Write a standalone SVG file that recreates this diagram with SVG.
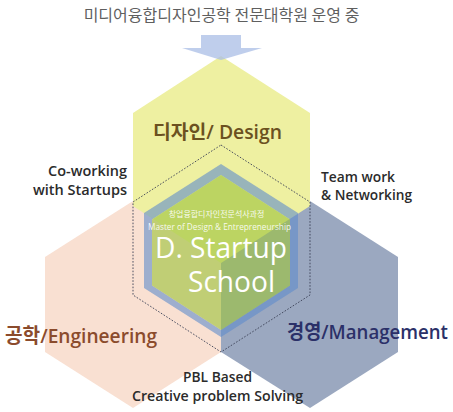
<svg xmlns="http://www.w3.org/2000/svg" width="453" height="412" viewBox="0 0 453 412">
<style>
.lbl{font-family:"Open Sans","Noto Sans CJK KR",sans-serif;font-weight:600}
.side{font-family:"Open Sans","Noto Sans CJK KR",sans-serif;font-weight:600;font-size:14.5px;fill:#2b2b2b}
.core{font-family:"Open Sans","Noto Sans CJK KR",sans-serif;fill:#ffffff}
.dot{fill:none;stroke:#3a3f55;stroke-width:0.9;stroke-dasharray:1.6 1.6}
</style>
<rect width="453" height="412" fill="#ffffff"/>
<g id="title">
<text x="221.5" y="21" text-anchor="middle" font-family="Noto Sans CJK KR, sans-serif" font-size="16" fill="#5f5f5f">미디어융합디자인공학 전문대학원 운영 중</text>
</g>
<g id="tile-engineering">
<polygon points="133,201 221,257 221,352 133,408 45,352 45,257" fill="#f9e0d2"/>
</g>
<g id="tile-management">
<polygon points="310,201 398,257 398,352 310,408 221,352 221,257" fill="#9ba8c0"/>
</g>
<g id="tile-design">
<polygon points="221,56 310,113 310,206 221,263 133,206 133,113" fill="#eef0a1"/>
</g>
<g id="connectors">
<polygon points="201,35 241,35 241,48 262,48 221,60 182,48 201,48" fill="#a9bde6" fill-opacity="0.75"/>
</g>
<g id="overlap-boundary">
<polygon class="dot" points="221,145 310,202 310,295 221,352 133,295 133,202"/>
</g>
<g id="core">
<path fill-rule="evenodd" fill="#5f8ccc" fill-opacity="0.6" d="M221,164 L298,213 L298,288 L221,337 L144,288 L144,213 Z M221,175 L290,219.5 L290,285.5 L221,330 L152,285.5 L152,219.5 Z"/>
<polygon points="221,175 290,219.5 290,285.5 221,330 152,285.5 152,219.5" fill="#9cc43c" fill-opacity="0.62"/>
<text class="core" x="216.5" y="217" text-anchor="middle" font-size="8" font-family="Noto Sans CJK KR, sans-serif" fill-opacity="0.9">창업융합디자인전문석사과정</text>
<text class="core" x="148" y="230" font-size="9.5" textLength="143" lengthAdjust="spacingAndGlyphs" fill-opacity="0.9">Master of Design &amp; Entrepreneurship</text>
<text class="core" x="155" y="258" font-size="30" textLength="132" lengthAdjust="spacingAndGlyphs">D. Startup</text>
<text class="core" x="188" y="292" font-size="30" textLength="87" lengthAdjust="spacingAndGlyphs">School</text>
</g>
<g id="label-design">
<text class="lbl" x="153" y="139" font-size="19" fill="#6b5120" textLength="129" lengthAdjust="spacingAndGlyphs"><tspan font-weight="700">디자인</tspan>/ Design</text>
</g>
<g id="label-engineering">
<text class="lbl" x="5" y="343" font-size="20" fill="#8b4b2c" textLength="152" lengthAdjust="spacingAndGlyphs"><tspan font-weight="700">공학</tspan>/Engineering</text>
</g>
<g id="label-management">
<text class="lbl" x="287" y="339" font-size="20" fill="#2b3068" textLength="161" lengthAdjust="spacingAndGlyphs"><tspan font-weight="700">경영</tspan>/Management</text>
</g>
<g id="note-coworking">
<text class="side" x="48" y="176" textLength="79" lengthAdjust="spacingAndGlyphs">Co-working</text>
<text class="side" x="33" y="195" textLength="94" lengthAdjust="spacingAndGlyphs">with Startups</text>
</g>
<g id="note-teamwork">
<text class="side" x="321" y="182" font-weight="500" textLength="74" lengthAdjust="spacingAndGlyphs">Team work</text>
<text class="side" x="321" y="200" font-weight="500" textLength="91" lengthAdjust="spacingAndGlyphs">&amp; Networking</text>
</g>
<g id="note-pbl">
<text class="side" x="183" y="382" textLength="69" lengthAdjust="spacingAndGlyphs">PBL Based</text>
<text class="side" x="132" y="401" textLength="171" lengthAdjust="spacingAndGlyphs">Creative problem Solving</text>
</g>
</svg>
